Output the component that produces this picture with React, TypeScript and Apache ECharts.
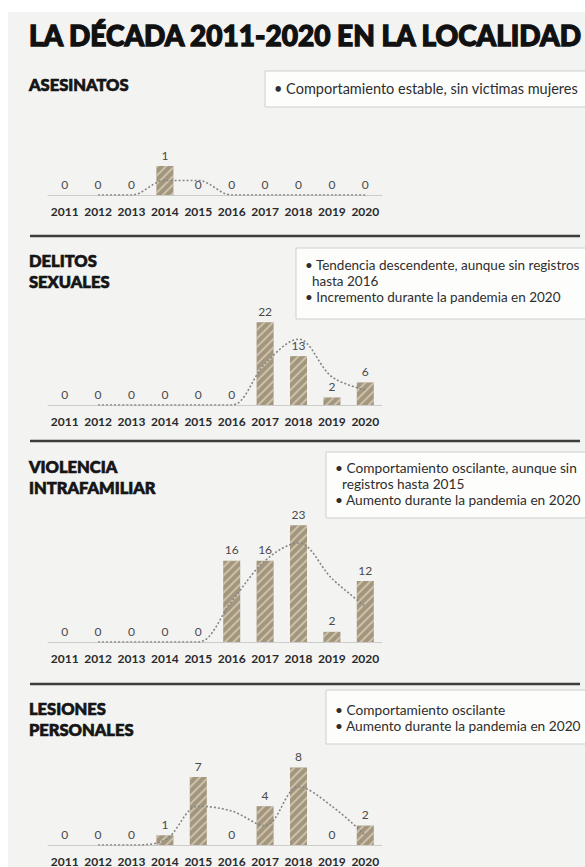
import React, { useEffect, useRef } from "react";
import * as echarts from "echarts";

const years = ["2011", "2012", "2013", "2014", "2015", "2016", "2017", "2018", "2019", "2020"];

const asesinatos = [0, 0, 0, 1, 0, 0, 0, 0, 0, 0];
const asesinatosTrend = [null, 0, 0, 0.5, 0.5, 0, 0, 0, 0, 0];

const delitos = [0, 0, 0, 0, 0, 0, 22, 13, 2, 6];
const delitosTrend = [null, 0, 0, 0, 0, 0, 11, 17.5, 7.5, 4];

const violencia = [0, 0, 0, 0, 0, 16, 16, 23, 2, 12];
const violenciaTrend = [null, 0, 0, 0, 0, 8, 16, 19.5, 12.5, 7];

const lesiones = [0, 0, 0, 1, 7, 0, 4, 8, 0, 2];
const lesionesTrend = [null, 0, 0, 0.5, 4, 3.5, 2, 6, 4, 1];

const mainTitle = "LA DÉCADA 2011-2020 EN LA LOCALIDAD";
const sectionTitles = ["ASESINATOS", "DELITOS\nSEXUALES", "VIOLENCIA\nINTRAFAMILIAR", "LESIONES\nPERSONALES"];
const notes = [
  ["• Comportamiento estable, sin victimas mujeres"],
  ["• Tendencia descendente, aunque sin registros", "  hasta 2016", "• Incremento durante la pandemia en 2020"],
  ["• Comportamiento oscilante, aunque sin", "  registros hasta 2015", "• Aumento durante la pandemia en 2020"],
  ["• Comportamiento oscilante", "• Aumento durante la pandemia en 2020"],
];

const seriesData = [asesinatos, delitos, violencia, lesiones];
const trendData = [asesinatosTrend, delitosTrend, violenciaTrend, lesionesTrend];
const yMax = [2, 25, 25, 10];

// layout
const grids = [
  { top: 137, height: 58 },
  { top: 311, height: 94 },
  { top: 515, height: 127 },
  { top: 748, height: 100 },
];
const headerY = [82, 258, 464, 706];
const sepY = [236, 441, 684];
const boxes = [
  { x: 265, y: 71, h: 36, lineY: 88, fs: 14.5 },
  { x: 296, y: 248, h: 71, lineY: 265, fs: 13.5 },
  { x: 326, y: 452, h: 66, lineY: 467, fs: 13.7 },
  { x: 326, y: 690, h: 54, lineY: 709, fs: 13.7 },
];

export default function App() {
  const ref = useRef<HTMLDivElement>(null);
  useEffect(() => {
    if (!ref.current) return;
    const chart = echarts.init(ref.current, undefined, { renderer: "svg" });
    const barColor = "#a3967d";
    const decal = {
      symbol: "rect",
      symbolSize: 1,
      dashArrayX: [[1, 0]],
      dashArrayY: [2, 4],
      rotation: -Math.PI / 4,
      color: "rgba(225,216,196,0.65)",
    };

    const graphic: any[] = [
      { type: "rect", shape: { x: 8, y: 12, width: 600, height: 900 }, style: { fill: "#f3f3f2" }, z: -10 },
      {
        type: "text",
        x: 29,
        y: 35,
        style: {
          text: mainTitle,
          fontFamily: "Lato",
          fontWeight: 900,
          fontSize: 28,
          fill: "#111",
          stroke: "#111",
          lineWidth: 1.3,
          verticalAlign: "middle",
        },
      },
    ];
    sectionTitles.forEach((t, i) => {
      graphic.push({
        type: "text",
        x: 29,
        y: headerY[i] - 8,
        style: {
          text: t,
          fontFamily: "Lato",
          fontWeight: 900,
          fontSize: 16.5,
          lineHeight: 21,
          fill: "#151515",
          stroke: "#151515",
          lineWidth: 0.7,
          verticalAlign: "top",
        },
      });
    });
    sepY.forEach((y) => {
      graphic.push({
        type: "line",
        shape: { x1: 30, y1: y, x2: 580, y2: y },
        style: { stroke: "#3c3c3c", lineWidth: 2.5 },
      });
    });
    boxes.forEach((b, i) => {
      graphic.push({
        type: "rect",
        shape: { x: b.x, y: b.y, width: 600 - b.x, height: b.h },
        style: { fill: "#fdfdfc", stroke: "#cfcfcf", lineWidth: 1 },
      });
      notes[i].forEach((line, j) => {
        graphic.push({
          type: "text",
          x: b.x + 9,
          y: b.lineY + j * 16,
          style: {
            text: line,
            fontFamily: "Lato",
            fontSize: b.fs,
            fill: "#2e2e2e",
            verticalAlign: "middle",
          },
        });
      });
    });

    const option: any = {
      animation: false,
      grid: grids.map((g) => ({ left: 48, width: 334, top: g.top, height: g.height })),
      xAxis: grids.map((_, i) => ({
        type: "category",
        gridIndex: i,
        data: years,
        axisLine: { lineStyle: { color: "#cccccc", width: 1 } },
        axisTick: { show: false },
        axisLabel: {
          margin: 10,
          fontFamily: "Lato",
          fontWeight: "bold",
          fontSize: 12,
          color: "#2a2a2a",
          interval: 0,
        },
      })),
      yAxis: grids.map((_, i) => ({
        type: "value",
        gridIndex: i,
        min: 0,
        max: yMax[i],
        show: false,
        splitLine: { show: false },
      })),
      series: [
        ...seriesData.map((d, i) => ({
          type: "bar",
          xAxisIndex: i,
          yAxisIndex: i,
          data: d,
          barWidth: 17,
          itemStyle: { color: barColor, decal },
          label: {
            show: true,
            position: "top",
            distance: 5,
            fontFamily: "Lato",
            fontSize: 12,
            color: "#4a4a4a",
          },
          z: 2,
        })),
        ...trendData.map((d, i) => ({
          type: "line",
          xAxisIndex: i,
          yAxisIndex: i,
          data: d,
          smooth: 0.35,
          symbol: "none",
          lineStyle: { color: "#868686", width: 1.6, type: [2, 2] },
          z: 3,
        })),
      ],
      graphic,
    };
    chart.setOption(option);
    return () => chart.dispose();
  }, []);

  return (
    <div
      ref={ref}
      style={{ position: "absolute", left: 0, top: 0, width: 585, height: 867, background: "#ffffff" }}
    />
  );
}
